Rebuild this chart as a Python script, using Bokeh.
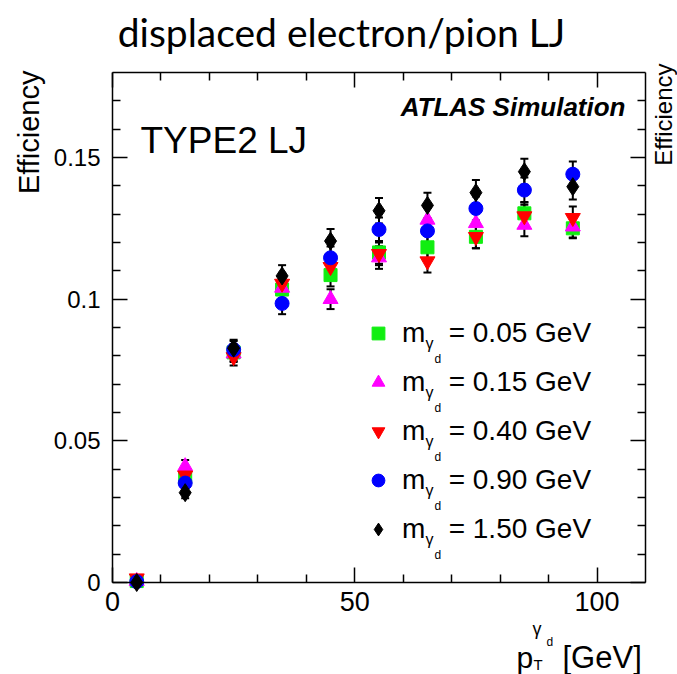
import numpy as np
from bokeh.plotting import figure
from bokeh.models import (ColumnDataSource, Whisker, TeeHead, Label, Legend, LegendItem,
                          FixedTicker, LinearAxis, Range1d, NumeralTickFormatter,
                          CustomLabelingPolicy)
from bokeh.embed import file_html
from bokeh.resources import INLINE

# ---------------- data ----------------
pt = [5, 15, 25, 35, 45, 55, 65, 75, 85, 95]
mass_labels = ["0.05", "0.15", "0.40", "0.90", "1.50"]

eff_005 = [0.0005, 0.0372, 0.0812, 0.1034, 0.1085, 0.1165, 0.1183, 0.1220, 0.1303, 0.1250]
eff_015 = [0.0005, 0.0410, 0.0808, 0.1040, 0.1000, 0.1147, 0.1280, 0.1268, 0.1262, 0.1256]
eff_040 = [0.0015, 0.0378, 0.0796, 0.1055, 0.1114, 0.1160, 0.1134, 0.1220, 0.1293, 0.1287]
eff_090 = [0.0003, 0.0351, 0.0822, 0.0985, 0.1146, 0.1246, 0.1241, 0.1320, 0.1385, 0.1441]
eff_150 = [0.0000, 0.0317, 0.0827, 0.1082, 0.1205, 0.1312, 0.1331, 0.1376, 0.1450, 0.1397]

err_005 = [0.0005, 0.0020, 0.0030, 0.0038, 0.0040, 0.0040, 0.0040, 0.0040, 0.0040, 0.0035]
err_015 = [0.0005, 0.0022, 0.0030, 0.0038, 0.0035, 0.0040, 0.0042, 0.0040, 0.0040, 0.0038]
err_040 = [0.0008, 0.0020, 0.0030, 0.0038, 0.0040, 0.0040, 0.0040, 0.0040, 0.0040, 0.0040]
err_090 = [0.0005, 0.0020, 0.0030, 0.0038, 0.0040, 0.0042, 0.0042, 0.0042, 0.0044, 0.0045]
err_150 = [0.0005, 0.0020, 0.0030, 0.0038, 0.0043, 0.0045, 0.0045, 0.0045, 0.0046, 0.0045]

x_lim = (0, 110)
y_lim = (0, 0.18)
x_major = [0, 50, 100]
x_minor = [10, 20, 30, 40, 60, 70, 80, 90]
y_major = [0, 0.05, 0.1, 0.15]
y_minor = [0.01, 0.02, 0.03, 0.04, 0.06, 0.07, 0.08, 0.09, 0.11, 0.12, 0.13, 0.14, 0.16, 0.17]

series = [
    (eff_005, err_005, "square", 13, "#11ee11"),
    (eff_015, err_015, "triangle", 15, "#ff00ff"),
    (eff_040, err_040, "inverted_triangle", 15, "#ff0000"),
    (eff_090, err_090, "circle", 14, "#0000ff"),
    (eff_150, err_150, "diamond", 18, "#000000"),
]

# ---------------- layout geometry (canvas pixels) ----------------
W, H = 677, 674
BOX_L, BOX_R, BOX_T, BOX_B = 112, 645, 72, 582   # plotting box inside the canvas
sx = (BOX_R - BOX_L) / (x_lim[1] - x_lim[0])
sy = (BOX_B - BOX_T) / (y_lim[1] - y_lim[0])
x_range = Range1d(x_lim[0] - BOX_L / sx, x_lim[1] + (W - BOX_R) / sx)
y_range = Range1d(y_lim[0] - (H - BOX_B) / sy, y_lim[1] + BOX_T / sy)

p = figure(width=W, height=H, x_range=x_range, y_range=y_range,
           output_backend="svg", toolbar_location=None,
           x_axis_location=None, y_axis_location=None,
           min_border=0, min_border_left=0, min_border_right=0,
           min_border_top=0, min_border_bottom=0)
p.xgrid.visible = False
p.ygrid.visible = False
p.outline_line_color = None
p.background_fill_color = "white"
p.border_fill_color = "white"

no_labels = CustomLabelingPolicy(code="return []")

ax_bottom = LinearAxis(fixed_location=y_lim[0], bounds=x_lim,
                       ticker=FixedTicker(ticks=x_major, minor_ticks=x_minor))
ax_top = LinearAxis(fixed_location=y_lim[1], bounds=x_lim,
                    ticker=FixedTicker(ticks=x_major, minor_ticks=x_minor),
                    major_label_policy=no_labels)
ax_left = LinearAxis(fixed_location=x_lim[0], bounds=y_lim,
                     ticker=FixedTicker(ticks=y_major, minor_ticks=y_minor),
                     formatter=NumeralTickFormatter(format="0.[00]"))
ax_right = LinearAxis(fixed_location=x_lim[1], bounds=y_lim,
                      ticker=FixedTicker(ticks=y_major, minor_ticks=y_minor),
                      major_label_policy=no_labels)
p.add_layout(ax_bottom, "below")
p.add_layout(ax_top, "above")
p.add_layout(ax_left, "left")
p.add_layout(ax_right, "right")

for ax in [ax_bottom, ax_top, ax_left, ax_right]:
    ax.major_tick_in = 15
    ax.major_tick_out = 0
    ax.minor_tick_in = 8
    ax.minor_tick_out = 0
    ax.axis_line_color = "black"
    ax.axis_line_width = 1.5
    ax.major_tick_line_width = 1.5
    ax.minor_tick_line_width = 1.5
    ax.major_tick_line_color = "black"
    ax.minor_tick_line_color = "black"
    ax.major_label_text_font = "Liberation Sans"
    ax.major_label_text_font_size = "24px"
    ax.major_label_text_color = "black"
ax_left.major_label_standoff = 12
ax_bottom.major_label_text_font_size = "27px"
ax_bottom.major_label_standoff = 9

# ---------------- data marks ----------------
for (eff, err, marker, size, color) in series:
    eff_a = np.array(eff)
    err_a = np.array(err)
    src = ColumnDataSource(dict(x=pt, lo=eff_a - err_a, hi=eff_a + err_a))
    w = Whisker(source=src, base="x", upper="hi", lower="lo", dimension="height",
                line_color="black", line_width=2,
                upper_head=TeeHead(size=8, line_width=2, line_color="black"),
                lower_head=TeeHead(size=8, line_width=2, line_color="black"))
    p.add_layout(w)

legend_items = []
for (eff, err, marker, size, color), m in zip(series, mass_labels):
    src = ColumnDataSource(dict(x=pt, y=eff))
    r = p.scatter("x", "y", source=src, marker=marker, size=size,
                  fill_color=color, line_color=color, line_width=1)
    legend_items.append(LegendItem(label="m\u00a0\u00a0\u00a0= " + m + " GeV", renderers=[r]))

# legend rows centred at canvas y = 332, 381, 430, 479, 528
legend = Legend(items=legend_items, location=(362, H - 545),
                label_text_font="Liberation Sans", label_text_font_size="28px",
                label_text_color="black",
                glyph_width=32, glyph_height=32, label_standoff=8,
                padding=0, margin=0, spacing=17,
                border_line_color=None, background_fill_alpha=0)
p.add_layout(legend, "center")


def lab(cx, cy, text, size, font="Liberation Sans", align="left", baseline="alphabetic",
        angle=0, style="normal"):
    p.add_layout(Label(x=cx, y=H - cy, x_units="screen", y_units="screen", text=text,
                       text_font=font, text_font_size=size, text_color="black",
                       text_align=align, text_baseline=baseline, angle=angle,
                       text_font_style=style))


# subscripts gamma_d in legend entries
for yb in [340, 389, 438, 487, 536]:
    lab(425, yb + 3, "\u03b3", "16px")
    lab(434, yb + 18, "d", "12px")

# ---------------- texts ----------------
lab(341, 31, "displaced electron/pion LJ", "39px", font="Lato", align="center")
lab(28, 70, "Efficiency", "29px", align="right", baseline="middle", angle=np.pi / 2)
lab(663, 63, "Efficiency", "24px", align="right", baseline="middle", angle=np.pi / 2)
lab(140, 140, "TYPE2 LJ", "37px")
lab(625, 106, "ATLAS Simulation", "26px", align="right", style="bold italic")

# x-axis title p_T^{gamma_d} [GeV]
lab(516, 657, "p", "30px")
lab(533, 664, "T", "15px")
lab(532, 628, "\u03b3", "18px")
lab(546, 641, "d", "12px")
lab(562, 657, "[GeV]", "31px")

open("out.html", "w").write(file_html(p, INLINE))
